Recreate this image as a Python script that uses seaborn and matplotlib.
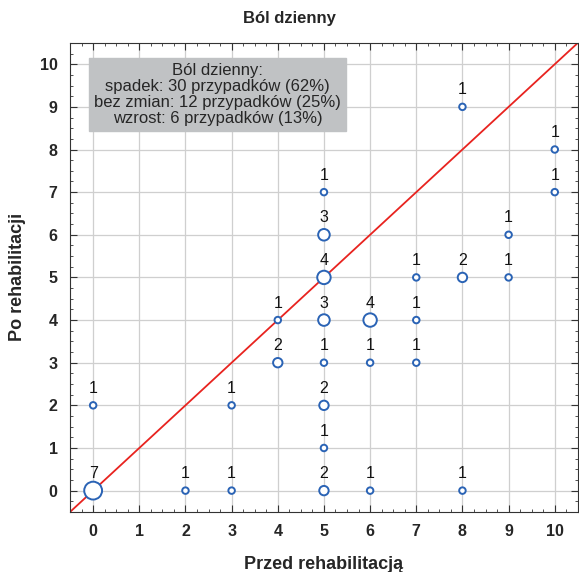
import matplotlib.pyplot as plt
import seaborn as sns
import pandas as pd

plt.switch_backend("Agg")

# before / after rehabilitation pain score, and number of cases at each point
przed = [0, 0, 2, 3, 3, 4, 4, 5, 5, 5, 5, 5, 5, 5, 5, 6, 6, 6, 7, 7, 7, 8, 8, 8, 9, 9, 10, 10]
po    = [0, 2, 0, 0, 2, 3, 4, 0, 1, 2, 3, 4, 5, 6, 7, 0, 3, 4, 3, 4, 5, 0, 5, 9, 5, 6, 7, 8]
liczba = [7, 1, 1, 1, 1, 2, 1, 2, 1, 2, 1, 3, 4, 3, 1, 1, 1, 4, 1, 1, 1, 1, 2, 1, 1, 1, 1, 1]
ticks = list(range(0, 11))
summary = ["Ból dzienny:",
           "spadek: 30 przypadków (62%)",
           "bez zmian: 12 przypadków (25%)",
           "wzrost: 6 przypadków (13%)"]

df = pd.DataFrame({"Przed": przed, "Po": po, "n": liczba})

sns.set_style("ticks")
plt.rcParams["font.family"] = ["Liberation Sans", "DejaVu Sans"]

fig = plt.figure(figsize=(5.79, 5.72), dpi=100)
ax = fig.add_axes([0.121, 0.105, 0.877, 0.82])

ax.grid(True, color="#cfcfcf", linewidth=0.9, zorder=0)
ax.plot([-0.5, 10.5], [-0.5, 10.5], color="#e8231f", linewidth=1.3, zorder=2)

sns.scatterplot(data=df, x="Przed", y="Po", size="n", sizes=(22, 165), size_norm=(1, 7),
                facecolor="white", edgecolor="#2a63b5", linewidth=1.4, legend=False,
                ax=ax, zorder=3)

for x, y, n in zip(przed, po, liczba):
    ax.text(x, y + 0.22, str(n), ha="center", va="bottom", fontsize=11.5,
            color="#111111", zorder=4)

ax.set_xlim(-0.5, 10.5)
ax.set_ylim(-0.5, 10.5)
ax.set_xticks(ticks)
ax.set_yticks(ticks)
ax.set_xticks([t / 4 for t in range(-2, 43)], minor=True)
ax.set_yticks([t / 4 for t in range(-2, 43)], minor=True)
ax.tick_params(which="both", direction="in", top=True, right=True, color="#333333")
ax.tick_params(which="major", length=5, labelsize=11.5, pad=9)
ax.tick_params(which="minor", length=2.5)
for lab in ax.get_xticklabels() + ax.get_yticklabels():
    lab.set_fontweight("bold")
for sp in ax.spines.values():
    sp.set_color("#333333")

ax.set_xlabel("Przed rehabilitacją", fontsize=13, fontweight="bold", labelpad=12)
ax.set_ylabel("Po rehabilitacji", fontsize=13, fontweight="bold", labelpad=10)
fig.text(0.5, 0.968, "Ból dzienny", ha="center", va="center", fontsize=12, fontweight="bold")

ax.text(2.7, 9.3, "\n".join(summary), ha="center", va="center", fontsize=12,
        linespacing=1.08, zorder=5,
        bbox=dict(boxstyle="square,pad=0.3", facecolor="#c0c2c4", edgecolor="#c0c2c4"))

plt.savefig("out.png", dpi=100)
plt.close()
